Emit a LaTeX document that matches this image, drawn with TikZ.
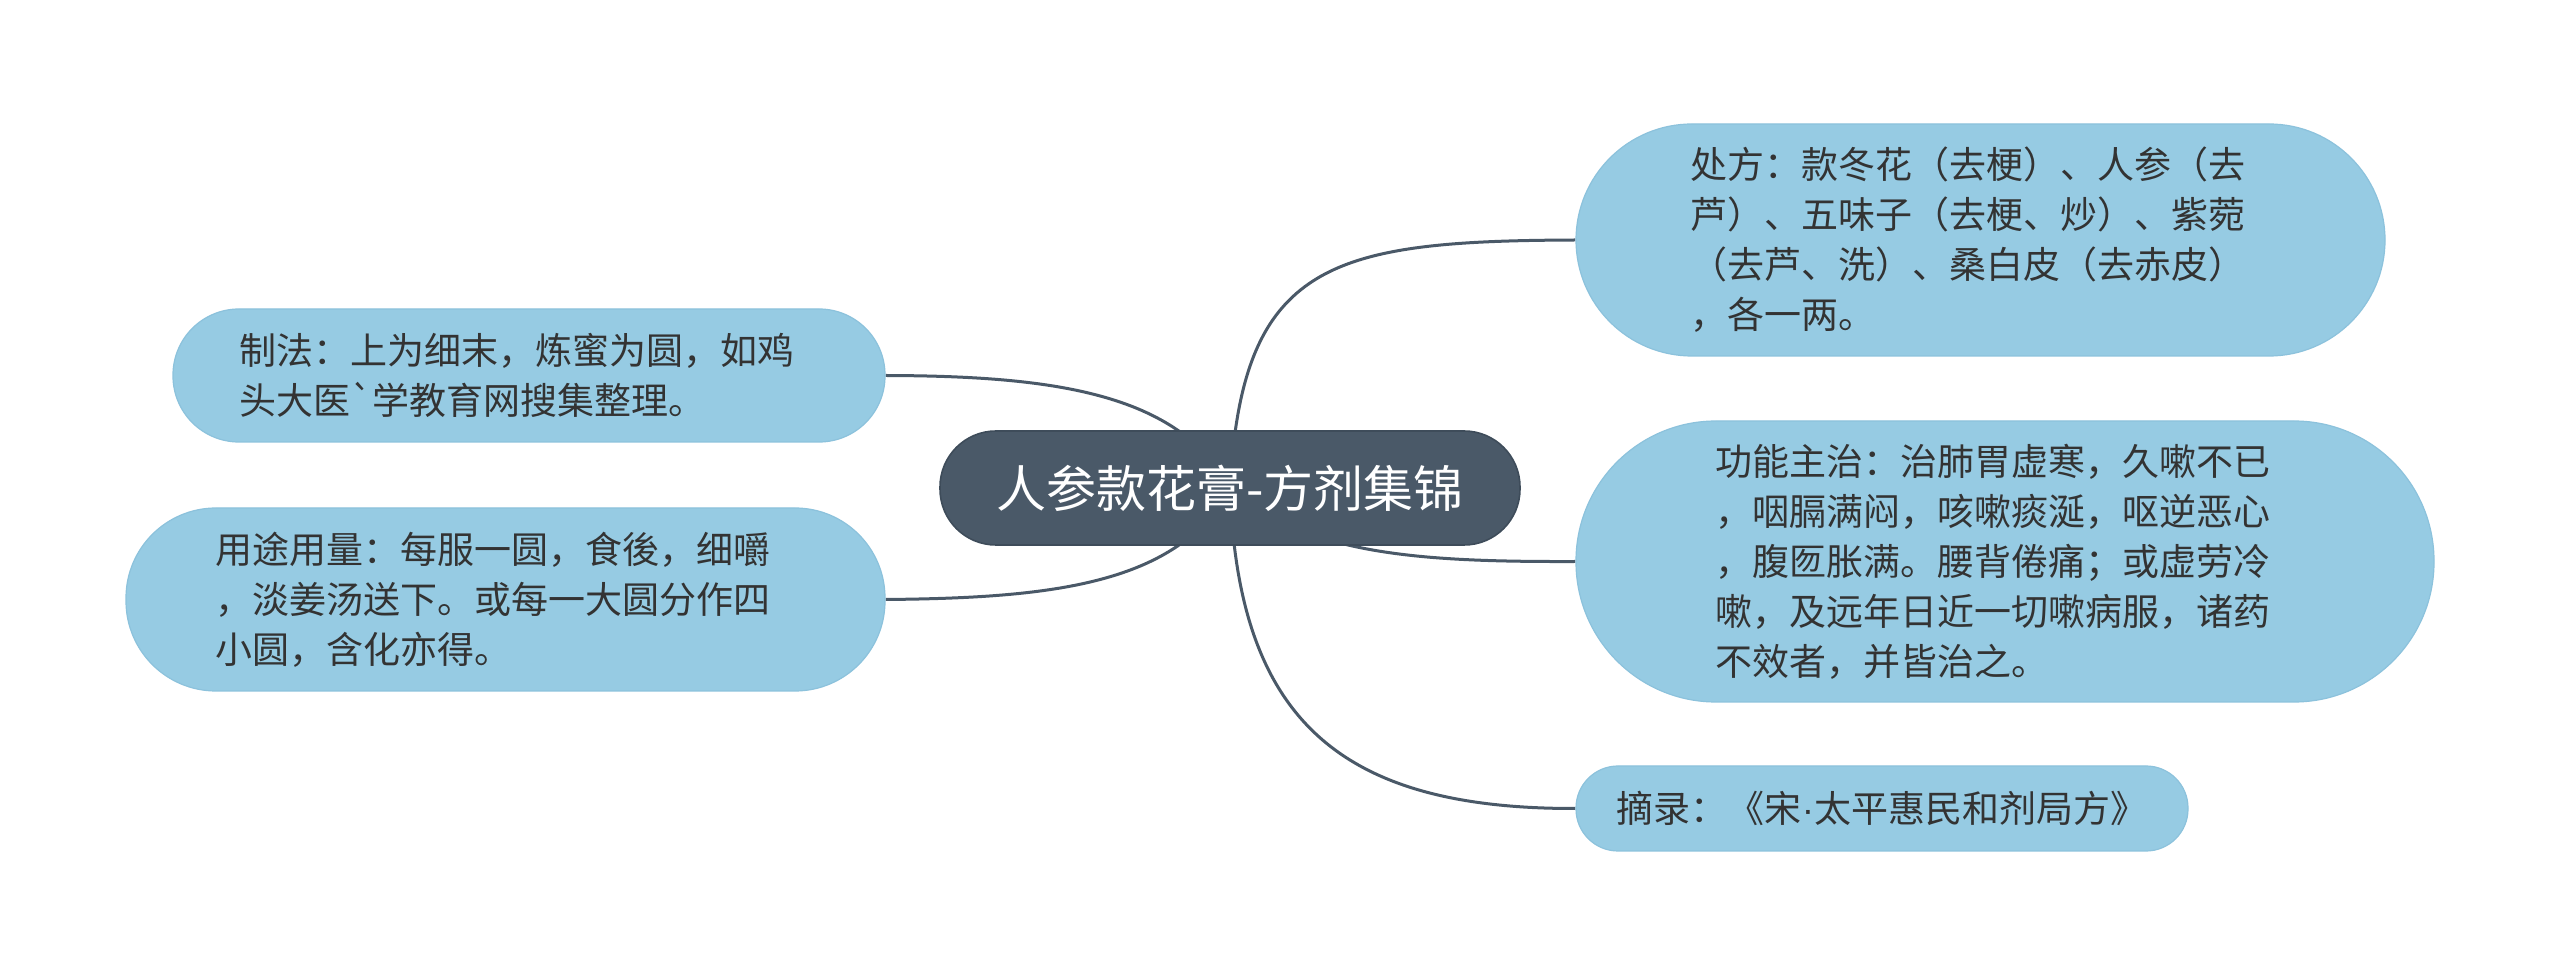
\documentclass[tikz,border=0pt]{standalone}
\usepackage{fontspec}
\newfontfamily\cjk{Noto Sans CJK SC}
\newfontfamily\latinf{Liberation Sans}
\definecolor{slate}{HTML}{4A5968}
\definecolor{slateline}{HTML}{3E4C5A}
\definecolor{leaf}{HTML}{96CBE3}
\definecolor{leafline}{HTML}{8CC2DC}
\definecolor{ink}{HTML}{333333}
\pgfdeclarelayer{bg}
\pgfsetlayers{bg,main}
\begin{document}
\begin{tikzpicture}[x=0.5pt,y=-0.5pt,
  rootbox/.style={fill=slate,draw=slateline,line width=0.8pt,text=white,inner sep=0pt,
    minimum width=290pt,minimum height=57pt,rounded corners=28pt,
    font=\cjk\fontsize{25}{30}\selectfont},
  leafbox/.style={fill=leaf,draw=leafline,line width=0.6pt,text=ink,inner sep=0pt,
    font=\cjk\fontsize{18.5}{25}\selectfont},
  multi/.style={align=left,text width=290pt},
  link/.style={draw=slate,line width=1.5pt}]
\useasboundingbox (0,0) rectangle (2560,977);

\node[rootbox] (c) at (1230,488) {人参款花膏-方剂集锦};

\node[leafbox,multi,minimum width=404.5pt,minimum height=116pt,rounded corners=58pt] (n1) at (1980.5,240)
 {处方：款冬花（去梗）、人参（去\\芦）、五味子（去梗、炒）、紫菀\\（去芦、洗）、桑白皮（去赤皮）\\，各一两。};
\node[leafbox,multi,minimum width=429pt,minimum height=140.5pt,rounded corners=70pt] (n2) at (2005,561.5)
 {功能主治：治肺胃虚寒，久嗽不已\\，咽膈满闷，咳嗽痰涎，呕逆恶心\\，腹匢胀满。腰背倦痛；或虚劳冷\\嗽，及远年日近一切嗽病服，诸药\\不效者，并皆治之。};
\node[leafbox,minimum width=306pt,minimum height=42.5pt,rounded corners=21pt] (n3) at (1882,808.5)
 {摘录：《宋{\latinf ·}太平惠民和剂局方》};
\node[leafbox,multi,minimum width=356pt,minimum height=66.5pt,rounded corners=33pt] (n4) at (529,375.5)
 {制法：上为细末，炼蜜为圆，如鸡\\头大医`学教育网搜集整理。};
\node[leafbox,multi,minimum width=379.5pt,minimum height=91.5pt,rounded corners=45pt] (n5) at (505.5,599.5)
 {用途用量：每服一圆，食後，细嚼\\，淡姜汤送下。或每一大圆分作四\\小圆，含化亦得。};

\begin{pgfonlayer}{bg}
\fill[white] (0,0) rectangle (2560,977);
\draw[link] (c.center) .. controls (1242,262) and (1330,241) .. (n1.west);
\draw[link] (c.center) .. controls (1306,555) and (1420,562) .. (n2.west);
\draw[link] (c.center) .. controls (1238,720) and (1340,809) .. (n3.west);
\draw[link] (c.center) .. controls (1178,392) and (1050,376) .. (n4.east);
\draw[link] (c.center) .. controls (1178,585) and (1050,598) .. (n5.east);
\end{pgfonlayer}
\end{tikzpicture}
\end{document}
